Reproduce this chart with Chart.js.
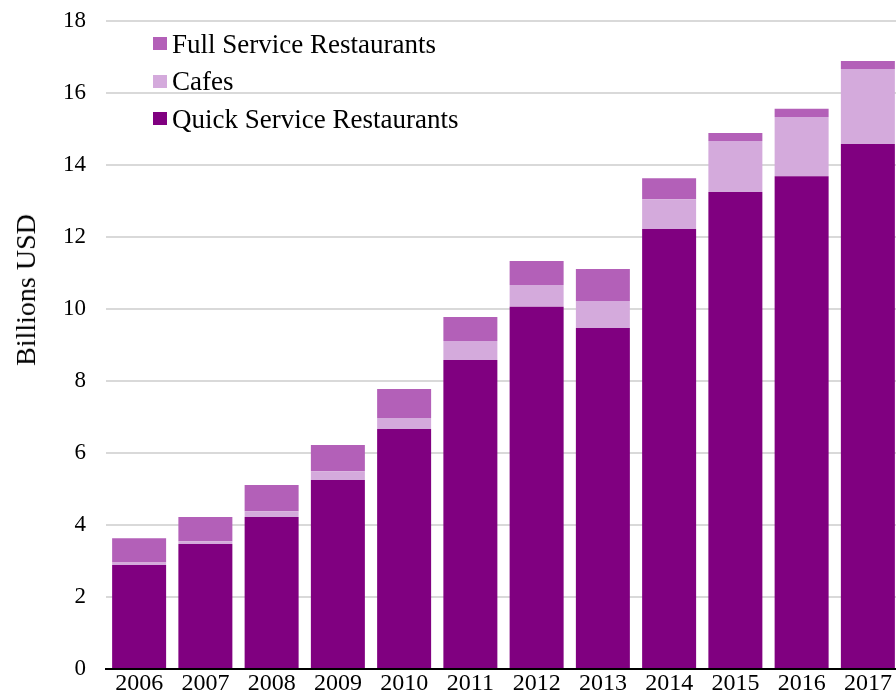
<!DOCTYPE html>
<html>
<head>
<meta charset="utf-8">
<script src="https://cdn.jsdelivr.net/npm/chart.js@4/dist/chart.umd.min.js"></script>
<style>
  html, body { margin: 0; padding: 0; background: #fff; overflow: hidden; }
  #wrap { position: relative; width: 896px; height: 693px; overflow: hidden; }
  #chart { position: absolute; left: 0; top: 0; }
  #ytitle {
    position: absolute; left: 26px; top: 290px;
    transform: translate(-50%, -50%) rotate(-90deg);
    font: 28px "Liberation Serif", "Times New Roman", serif;
    color: #000; white-space: nowrap;
  }
  #legend { position: absolute; left: 153px; top: 0; }
  .row {
    position: absolute; left: 0; height: 30px; display: flex; align-items: center;
    font: 27px/30px "Liberation Serif", "Times New Roman", serif; color: #000; white-space: nowrap;
  }
  .box { width: 14px; height: 13px; margin-right: 5px; }
</style>
</head>
<body>
<div id="wrap">
  <canvas id="chart" width="901" height="693"></canvas>
  <div id="ytitle">Billions USD</div>
  <div id="legend"></div>
</div>
<script>
const years = ['2006', '2007', '2008', '2009', '2010', '2011', '2012', '2013', '2014', '2015', '2016', '2017'];
const quickService = [2.89, 3.47, 4.22, 5.25, 6.67, 8.58, 10.06, 9.47, 12.22, 13.25, 13.69, 14.58];
const cafes = [0.07, 0.08, 0.16, 0.24, 0.30, 0.53, 0.61, 0.75, 0.83, 1.42, 1.64, 2.09];
const fullService = [0.67, 0.67, 0.73, 0.73, 0.81, 0.67, 0.66, 0.89, 0.58, 0.22, 0.23, 0.22];
const yTicks = [0, 2, 4, 6, 8, 10, 12, 14, 16, 18];

const serif = '"Liberation Serif", "Times New Roman", serif';

const chart = new Chart(document.getElementById('chart'), {
    type: 'bar',
    data: {
        labels: years,
        datasets: [
            { label: 'Quick Service Restaurants', data: quickService, backgroundColor: '#800080' },
            { label: 'Cafes', data: cafes, backgroundColor: '#d4aadc' },
            { label: 'Full Service Restaurants', data: fullService, backgroundColor: '#b360b8' }
        ]
    },
    options: {
        responsive: false,
        animation: false,
        layout: { padding: { top: 21, right: 0, left: 0, bottom: 0 } },
        datasets: {
            bar: { barPercentage: 0.815, categoryPercentage: 1.0, borderWidth: 0 }
        },
        plugins: {
            legend: { display: false },
            tooltip: { enabled: false }
        },
        scales: {
            x: {
                stacked: true,
                grid: { display: false, drawTicks: false },
                border: { display: true, color: '#000', width: 2 },
                ticks: { color: '#000', padding: 0, font: { family: serif, size: 24 } },
                afterFit: function (scale) {
                    scale.height = 24;
                    scale.paddingLeft = 0;
                    scale.paddingRight = 0;
                }
            },
            y: {
                stacked: true,
                min: 0,
                max: 18,
                afterBuildTicks: function (scale) { scale.ticks = yTicks.map(v => ({ value: v })); },
                grid: { color: '#d9d9d9', lineWidth: 2, drawTicks: false },
                border: { display: false },
                ticks: { color: '#000', padding: 20, font: { family: serif, size: 23 } },
                afterFit: function (scale) {
                    scale.width = 106;
                    scale.paddingTop = 0;
                    scale.paddingBottom = 0;
                }
            }
        }
    }
});

// legend inside the plot, top to bottom like the original
const legendDiv = document.getElementById('legend');
const legendCenters = [43.7, 81.2, 118.7];
chart.data.datasets.slice().reverse().forEach(function (ds, i) {
    let row = document.createElement('div');
    row.className = 'row';
    row.style.top = (legendCenters[i] - 15) + 'px';
    row.innerHTML = `<span class="box" style="background:${ds.backgroundColor}"></span><span>${ds.label}</span>`;
    legendDiv.appendChild(row);
});
</script>
</body>
</html>
